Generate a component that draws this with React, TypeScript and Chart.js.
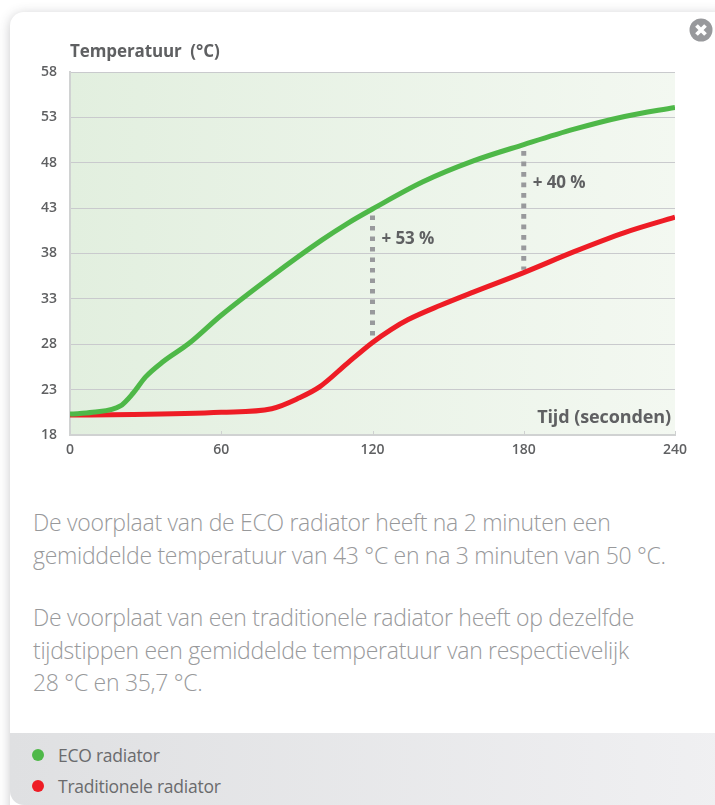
import React, { useEffect, useRef } from "react";
import { Chart, registerables } from "chart.js";

Chart.register(...registerables);

const ecoTimes = [0, 9, 20, 25, 30, 37, 47, 60, 80, 100, 110, 120, 140, 160, 180, 200, 220, 240];
const ecoTemps = [20.3, 20.5, 21.2, 22.6, 24.4, 26.1, 28.05, 31.2, 35.5, 39.5, 41.3, 42.9, 45.9, 48.2, 50.0, 51.7, 53.1, 54.1];
const tradTimes = [0, 25, 60, 80, 91, 99, 110, 120, 127.5, 134, 147, 160, 180, 200, 220, 240];
const tradTemps = [20.2, 20.25, 20.5, 20.9, 22.1, 23.3, 25.9, 28.2, 29.65, 30.7, 32.3, 33.75, 35.9, 38.2, 40.3, 42];
const gap120Temps = [42.2, 28.3];
const gap180Temps = [49.3, 36.2];
const gapLabels = ["+ 53 %", "+ 40 %"];
const yTicks = [18, 23, 28, 33, 38, 43, 48, 53, 58];
const xTicks = [0, 60, 120, 180, 240];
const yTitle = "Temperatuur  (°C)";
const xTitle = "Tijd (seconden)";
const seriesNames = ["ECO radiator", "Traditionele radiator"];
const seriesColors = ["#4eb848", "#ee1c25"];
const paragraphOne = ["De voorplaat van de ECO radiator heeft na 2 minuten een", "gemiddelde temperatuur van 43 °C en na 3 minuten van 50 °C."];
const paragraphTwo = ["De voorplaat van een traditionele radiator heeft op dezelfde", "tijdstippen een gemiddelde temperatuur van respectievelijk", "28 °C en 35,7 °C."];

const FONT = '"Open Sans", "Noto Sans", sans-serif';
const INK = "#5f6062";
const toPoints = (xs: number[], ys: number[]) => xs.map((x, i) => ({ x, y: ys[i] }));

const decorations = {
  id: "decorations",
  beforeDatasetsDraw(chart: any) {
    const { ctx, chartArea: a, scales } = chart;
    ctx.save();
    const g = ctx.createLinearGradient(a.left, 0, a.right, 0);
    g.addColorStop(0, "#e2efdf");
    g.addColorStop(1, "#f3f8f1");
    ctx.globalCompositeOperation = "destination-over";
    ctx.fillStyle = g;
    ctx.fillRect(a.left, a.top, a.right - a.left, a.bottom - a.top);
    ctx.globalCompositeOperation = "source-over";
    ctx.strokeStyle = "#cfd1d1";
    ctx.lineWidth = 1;
    xTicks.forEach((t) => {
      const x = Math.round(scales.x.getPixelForValue(t)) + 0.5;
      ctx.beginPath();
      ctx.moveTo(x, a.bottom);
      ctx.lineTo(x, a.bottom - 4);
      ctx.stroke();
    });
    ctx.restore();
  },
  afterDatasetsDraw(chart: any) {
    const { ctx, chartArea: a, scales } = chart;
    ctx.save();
    ctx.fillStyle = INK;
    ctx.textBaseline = "middle";
    ctx.font = `700 17px ${FONT}`;
    ctx.letterSpacing = "-0.1px";
    ctx.textAlign = "left";
    ctx.fillText(gapLabels[0], scales.x.getPixelForValue(120) + 9, scales.y.getPixelForValue(39.6));
    ctx.fillText(gapLabels[1], scales.x.getPixelForValue(180) + 9, scales.y.getPixelForValue(45.7));
    ctx.fillText(yTitle, a.left, a.top - 20);
    ctx.font = `700 18px ${FONT}`;
    ctx.textAlign = "right";
    ctx.fillText(xTitle, a.right - 4, a.bottom - 17);
    ctx.restore();
  },
};

export default function App() {
  const ref = useRef<HTMLCanvasElement>(null);
  useEffect(() => {
    document.body.style.margin = "0";
    const chart = new Chart(ref.current!, {
      type: "line",
      data: {
        datasets: [
          { label: seriesNames[0], data: toPoints(ecoTimes, ecoTemps), borderColor: seriesColors[0], borderWidth: 5, cubicInterpolationMode: "monotone", pointRadius: 0 },
          { label: seriesNames[1], data: toPoints(tradTimes, tradTemps), borderColor: seriesColors[1], borderWidth: 5, cubicInterpolationMode: "monotone", pointRadius: 0 },
          { label: "gap 120", data: gap120Temps.map((y) => ({ x: 120, y })), borderColor: "#98999c", borderWidth: 5, borderDash: [4.7, 5.8], pointRadius: 0 },
          { label: "gap 180", data: gap180Temps.map((y) => ({ x: 180, y })), borderColor: "#98999c", borderWidth: 5, borderDash: [4.7, 5.8], pointRadius: 0 },
        ],
      } as any,
      options: {
        animation: false,
        responsive: false,
        layout: { padding: { left: 0, right: 40, top: 72, bottom: 0 } },
        plugins: { legend: { display: false }, tooltip: { enabled: false } },
        scales: {
          x: {
            type: "linear",
            min: 0,
            max: 240,
            afterBuildTicks: (s: any) => { s.ticks = xTicks.map((value) => ({ value })); },
            afterFit: (s: any) => { s.height = 45; },
            grid: { display: false, drawTicks: false },
            border: { color: "#d0d2d2", width: 2 },
            ticks: { color: INK, padding: 7, maxRotation: 0, autoSkip: false, font: { family: FONT, size: 14, weight: "600" } },
          },
          y: {
            type: "linear",
            min: 18,
            max: 58,
            afterBuildTicks: (s: any) => { s.ticks = yTicks.map((value) => ({ value })); },
            afterFit: (s: any) => { s.width = 70; },
            grid: { color: "#c9cacd", lineWidth: 1, drawTicks: false },
            border: { color: "#d0d2d2", width: 2 },
            ticks: { color: INK, padding: 13, autoSkip: false, font: { family: FONT, size: 14, weight: "600" } },
          },
        },
      } as any,
      plugins: [decorations],
    });
    return () => chart.destroy();
  }, []);

  const para: React.CSSProperties = { position: "absolute", left: 33, fontFamily: FONT, fontWeight: 300, fontSize: 23, lineHeight: "32.5px", color: "#98999b", letterSpacing: "-0.29px", whiteSpace: "nowrap" };
  return (
    <div style={{ position: "fixed", left: 0, top: 0, width: 715, height: 805, overflow: "hidden", background: "#fff" }}>
      <div style={{ position: "absolute", left: 10, top: 12, width: 720, height: 820, background: "#fff", borderRadius: 14, boxShadow: "0 2px 12px rgba(60,62,70,0.28)", overflow: "hidden" }}>
        <div style={{ position: "absolute", left: 0, right: 0, top: 721, height: 72, borderBottomLeftRadius: 14, background: "linear-gradient(90deg,#dfe0e2,#f0f0f2)" }} />
      </div>
      <canvas ref={ref} width={715} height={480} style={{ position: "absolute", left: 0, top: 0, display: "block" }} />
      <svg width="24" height="24" viewBox="0 0 24 24" style={{ position: "absolute", left: 689, top: 18 }}>
        <circle cx="12" cy="12" r="11.5" fill="#98999c" />
        <path d="M7.5 7.5 L16.5 16.5 M16.5 7.5 L7.5 16.5" stroke="#fff" strokeWidth="3.8" />
      </svg>
      <div style={{ ...para, top: 506 }}>{paragraphOne.map((l) => <div key={l}>{l}</div>)}</div>
      <div style={{ ...para, top: 601 }}>{paragraphTwo.map((l) => <div key={l}>{l}</div>)}</div>
      {seriesNames.map((name, i) => (
        <div key={name} style={{ position: "absolute", left: 32, top: 740 + i * 31, height: 30, display: "flex", alignItems: "center", fontFamily: FONT, fontSize: 17.5, letterSpacing: "-0.25px", color: "#6a6b6d" }}>
          <span style={{ width: 12, height: 12, borderRadius: 6, background: seriesColors[i], marginRight: 14 }} />
          {name}
        </div>
      ))}
    </div>
  );
}
